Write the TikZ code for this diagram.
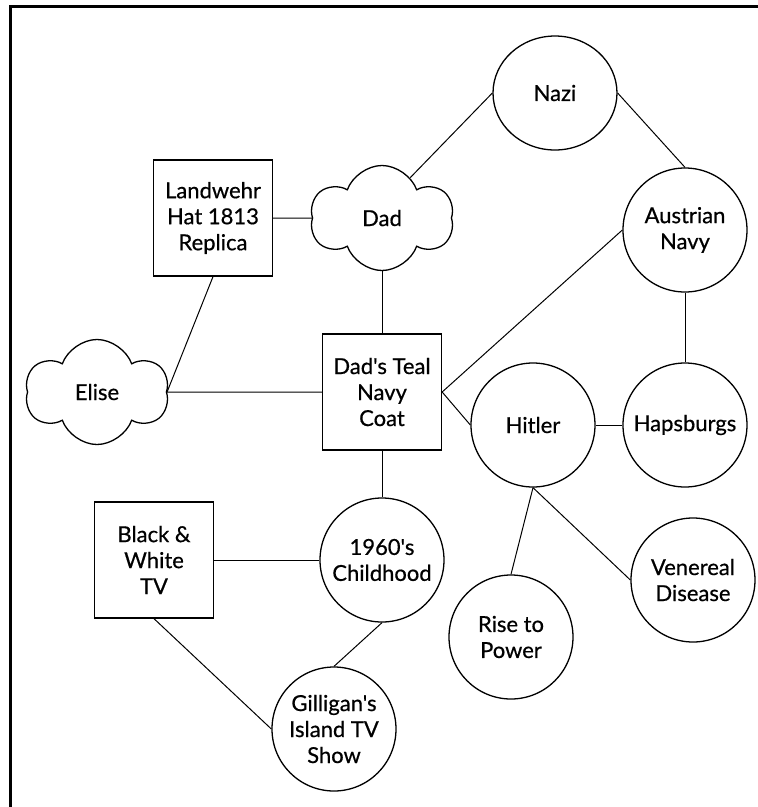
\documentclass[tikz,border=0pt]{standalone}
\usepackage{fontspec}
\newfontfamily\gill{Lato}[FakeBold=0.6]
\usetikzlibrary{shapes.symbols,shapes.geometric}

\begin{document}
\begin{tikzpicture}[x=1pt, y=-1pt,
    every node/.style={font=\gill\fontsize{22}{26}\selectfont, align=center, inner sep=0pt},
    boxnode/.style={draw, line width=1.3pt, minimum width=119pt, minimum height=116pt},
    ballnode/.style={draw, line width=1.3pt, circle, minimum size=124pt},
    cloudnode/.style={draw, line width=1.3pt, cloud, cloud puffs=6, cloud puff arc=140, cloud ignores aspect, minimum width=143pt, minimum height=105pt},
    link/.style={line width=1pt}]
\useasboundingbox (0,0) rectangle (758,807);
\draw[line width=3pt] (758,6) -- (10,6) -- (10,807);

\node[boxnode] (hat) at (213,218) {Landwehr\\Hat 1813\\Replica};
\node[cloudnode] (dad) at (382,218) {Dad};
\node[draw, line width=1.3pt, ellipse, minimum width=124pt, minimum height=114pt] (nazi) at (555,93) {Nazi};
\node[ballnode] (austria) at (685,230) {Austrian\\Navy};
\node[cloudnode] (elise) at (97,392) {Elise};
\node[boxnode] (coat) at (382,392) {Dad's Teal\\Navy\\Coat};
\node[ballnode] (hitler) at (533,425) {Hitler};
\node[ballnode] (haps) at (685,425) {Hapsburgs};
\node[boxnode] (tv) at (154,560) {Black \&\\White\\TV};
\node[ballnode] (sixties) at (382,560) {1960's\\Childhood};
\node[ballnode] (rise) at (511,637) {Rise to\\Power};
\node[ballnode] (disease) at (693,580) {Venereal\\Disease};
\node[ballnode] (gilligan) at (334,729) {Gilligan's\\Island TV\\Show};

\draw[link] (hat) -- (dad);
\draw[link] (dad.55) -- (nazi.west);
\draw[link] (nazi.east) -- (austria.north);
\draw[link] (dad) -- (coat);
\draw[link] (hat.south) -- (elise.east);
\draw[link] (elise.east) -- (coat.west);
\draw[link] (coat.east) -- (austria.west);
\draw[link] (coat.east) -- (hitler.west);
\draw[link] (austria) -- (haps);
\draw[link] (hitler) -- (haps);
\draw[link] (hitler.south) -- (rise.north);
\draw[link] (hitler.south) -- (disease.west);
\draw[link] (coat) -- (sixties);
\draw[link] (tv) -- (sixties);
\draw[link] (tv.south) -- (gilligan.west);
\draw[link] (sixties.south) -- (gilligan.north);
\end{tikzpicture}
\end{document}
